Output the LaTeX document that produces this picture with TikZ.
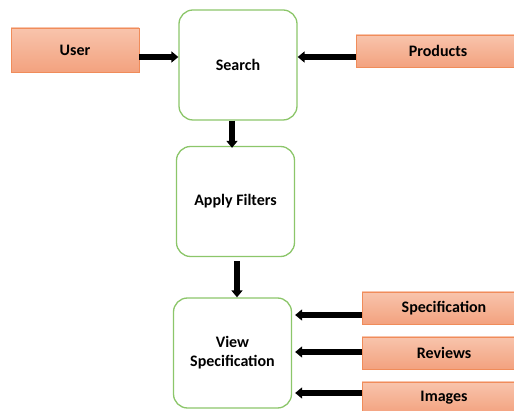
\documentclass[tikz,border=0pt]{standalone}
\usepackage{fontspec}
\setmainfont{Carlito}
\usetikzlibrary{arrows.meta,positioning}
\definecolor{salmontop}{HTML}{F8C4AC}
\definecolor{salmonbot}{HTML}{F3A27F}
\definecolor{salmonline}{HTML}{F08C5A}
\definecolor{stepgreen}{HTML}{8CC66A}

\begin{document}
\begin{tikzpicture}[x=1pt,y=-1pt]
\tikzset{every node/.style={font=\fontsize{16}{19}\selectfont\bfseries, align=center},
process/.style={draw=stepgreen, line width=1.3pt, rounded corners=14pt, fill=white,
minimum width=118pt, minimum height=110pt},
source/.style={draw=salmonline, line width=0.8pt, top color=salmontop, bottom color=salmonbot,
minimum height=32pt, minimum width=164pt, inner sep=0pt}}
\useasboundingbox (0,0) rectangle (514,411);

\node[process] (search) at (238,65) {Search};
\node[process] (apply-filters) at (235.5,201.5) {Apply Filters};
\node[process] (view-spec) at (232.5,353) {View\\Specification};

\node[source, minimum width=128pt, minimum height=44pt] (user) at (75,50) {User};
\node[source] (products) at (438,51) {Products};
\node[source] (spec-in) at (444,308) {Specification};
\node[source] (reviews-in) at (444,353) {Reviews};
\node[source] (images-in) at (444,398) {Images};

\path[every edge/.style={draw, line width=5.5pt, ->, >={Triangle[width=11pt,length=7pt]}}]
([yshift=-7pt]user.east) edge ([yshift=-7pt]user.east -| search.west)
([yshift=-6pt]products.west) edge ([yshift=-6pt]products.west -| search.east)
([xshift=-6pt]search.south) edge ([xshift=-6pt,yshift=-2pt]search.south |- apply-filters.north)
([xshift=1.5pt,yshift=-4pt]apply-filters.south) edge ([xshift=1.5pt]apply-filters.south |- view-spec.north)
([yshift=-7pt]spec-in.west) edge ([yshift=-7pt,xshift=3pt]spec-in.west -| view-spec.east)
([yshift=1pt]reviews-in.west) edge ([yshift=1pt,xshift=3pt]reviews-in.west -| view-spec.east)
([yshift=5pt]images-in.west) edge ([yshift=5pt,xshift=3pt]images-in.west -| view-spec.east);
\end{tikzpicture}
\end{document}
